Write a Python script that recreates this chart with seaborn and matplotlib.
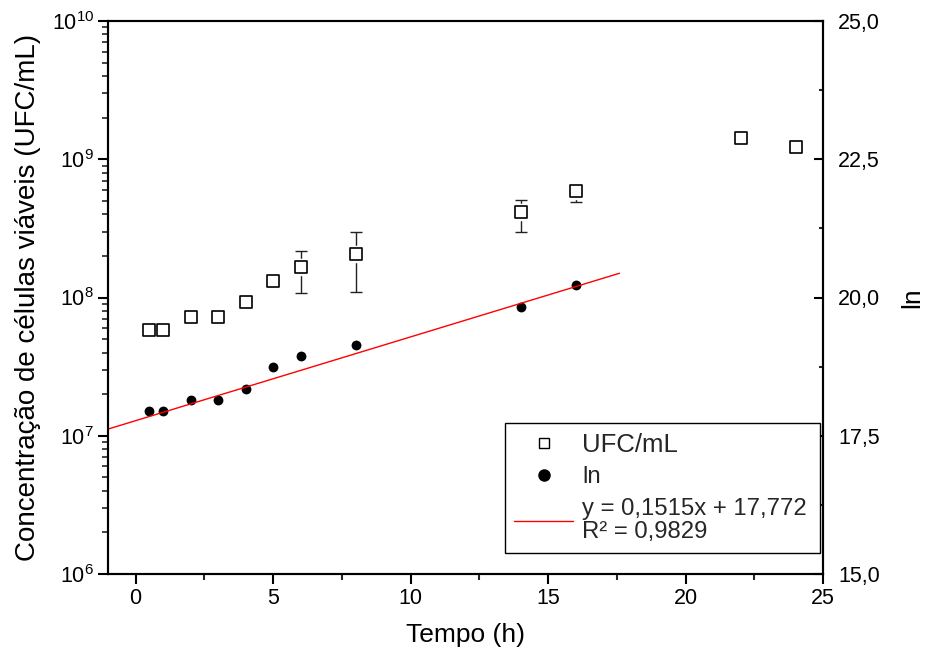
import numpy as np
import pandas as pd
import matplotlib
matplotlib.use('Agg')
import matplotlib.pyplot as plt
import seaborn as sns
from matplotlib.lines import Line2D
from matplotlib.ticker import LogLocator, MultipleLocator, FixedLocator, NullFormatter

# dados
tempo_ufc = [0.5, 1, 2, 3, 4, 5, 6, 8, 14, 16, 22, 24]
ufc = [5.86e7, 5.86e7, 7.17e7, 7.17e7, 9.35e7, 1.31e8, 1.65e8, 2.08e8, 4.13e8, 5.86e8, 1.42e9, 1.22e9]
ufc_sup = [5.86e7, 5.86e7, 7.7e7, 7.17e7, 1.02e8, 1.31e8, 2.16e8, 2.96e8, 5.05e8, 6.2e8, 1.42e9, 1.22e9]
ufc_inf = [5.86e7, 5.86e7, 6.45e7, 7.17e7, 8.2e7, 1.31e8, 1.07e8, 1.10e8, 2.96e8, 4.9e8, 1.42e9, 1.22e9]

tempo_ln = [0.5, 1, 2, 3, 4, 5, 6, 8, 14, 16]
ln_vals = [17.95, 17.95, 18.15, 18.15, 18.34, 18.74, 18.94, 19.14, 19.83, 20.23]

# reta de regressão (equação da legenda)
inclinacao = 0.1515
intercepto = 17.772
reta_x = [-1.0, 17.6]

ln_ticks = [15.0, 17.5, 20.0, 22.5, 25.0]
ln_ticklabels = ['15,0', '17,5', '20,0', '22,5', '25,0']
x_ticks = [0, 5, 10, 15, 20, 25]

sns.set_theme(style='white')
plt.rcParams['font.family'] = ['Liberation Sans', 'DejaVu Sans']
plt.rcParams['mathtext.fontset'] = 'custom'
plt.rcParams['mathtext.rm'] = 'Liberation Sans'
plt.rcParams['mathtext.default'] = 'regular'

df_ufc = pd.DataFrame({'tempo': tempo_ufc, 'ufc': ufc})
df_ln = pd.DataFrame({'tempo': tempo_ln, 'ln': ln_vals})
df_reta = pd.DataFrame({'tempo': reta_x,
                        'ln': [intercepto + inclinacao * v for v in reta_x]})

fig = plt.figure(figsize=(9.26, 6.54), dpi=100)
ax = fig.add_axes([108 / 926, 1 - 574 / 654, 715 / 926, 553 / 654])
ax2 = ax.twinx()

# barras de erro (assimétricas)
erro = np.array([np.array(ufc) - np.array(ufc_inf), np.array(ufc_sup) - np.array(ufc)])
ax.errorbar(tempo_ufc, ufc, yerr=erro, fmt='none', ecolor='#222222',
            elinewidth=1.0, capsize=4.3, capthick=1.0, zorder=2)
# máscara branca para o espaço entre barra e marcador
ax.plot(tempo_ufc, ufc, ls='none', marker='s', ms=11.5, mfc='white', mec='white', zorder=3)
sns.scatterplot(data=df_ufc, x='tempo', y='ufc', ax=ax, marker='s', s=74,
                facecolor='white', edgecolor='black', linewidth=1.2, zorder=4)

ax.set_yscale('log')
ax.set_ylim(1e6, 1e10)
ax.set_xlim(-1, 25)
ax.xaxis.set_major_locator(FixedLocator(x_ticks))
ax.xaxis.set_minor_locator(MultipleLocator(2.5))
ax.yaxis.set_major_locator(LogLocator(base=10, numticks=10))
ax.yaxis.set_minor_locator(LogLocator(base=10, subs=np.arange(2, 10), numticks=20))
ax.yaxis.set_minor_formatter(NullFormatter())

sns.lineplot(data=df_reta, x='tempo', y='ln', ax=ax2, color='red', linewidth=1.0)
sns.scatterplot(data=df_ln, x='tempo', y='ln', ax=ax2, marker='o', s=50,
                color='black', edgecolor='black', linewidth=0)
ax2.set_ylim(15, 25)
ax2.set_yticks(ln_ticks)
ax2.set_yticklabels(ln_ticklabels)
ax2.yaxis.set_minor_locator(MultipleLocator(1.25))
ax2.set_xlim(-1, 25)

for a in (ax, ax2):
    for s in a.spines.values():
        s.set_linewidth(1.5)
        s.set_color('black')
        s.set_visible(True)

ax.tick_params(axis='x', which='major', direction='out', length=7, width=1.5,
               labelsize=15.5, pad=3, colors='black', bottom=True)
ax.tick_params(axis='x', which='minor', direction='out', length=4, width=1.5, bottom=True)
ax.tick_params(axis='y', which='major', direction='out', length=7, width=1.5,
               labelsize=15.5, pad=3, colors='black', left=True)
ax.tick_params(axis='y', which='minor', direction='out', length=4, width=1.2, left=True)
ax2.tick_params(axis='y', which='major', direction='in', length=6.5, width=1.5,
                labelsize=15.5, pad=11, colors='black', right=True)
ax2.tick_params(axis='y', which='minor', direction='in', length=3, width=1.5, right=True)

ax.set_xlabel('Tempo (h)', fontsize=19, labelpad=10, color='black')
ax.set_ylabel('Concentração de células viáveis (UFC/mL)', fontsize=20, labelpad=8, color='black')
ax2.set_ylabel('ln', fontsize=19, labelpad=14, color='black')

handles = [
    Line2D([], [], ls='none', marker='s', ms=7, mfc='white', mec='black', mew=1.0),
    Line2D([], [], ls='none', marker='o', ms=8, color='black'),
    Line2D([], [], color='red', lw=1.0),
]
labels = ['UFC/mL', 'ln', 'y = 0,1515x + 17,772\nR² = 0,9829']
leg = ax2.legend(handles, labels, loc='lower left', bbox_to_anchor=(0.555, 0.038, 0.441, 0.246),
                 mode='expand', fontsize=17.2, frameon=True, fancybox=False,
                 edgecolor='black', framealpha=1, handlelength=2.45, handletextpad=0.4,
                 borderpad=0.4, labelspacing=0.4, borderaxespad=0)
leg.get_frame().set_linewidth(1.0)
leg.get_texts()[0].set_fontsize(18.5)
leg.get_texts()[2].set_linespacing(1.1)

fig.savefig('out.png', dpi=100)
